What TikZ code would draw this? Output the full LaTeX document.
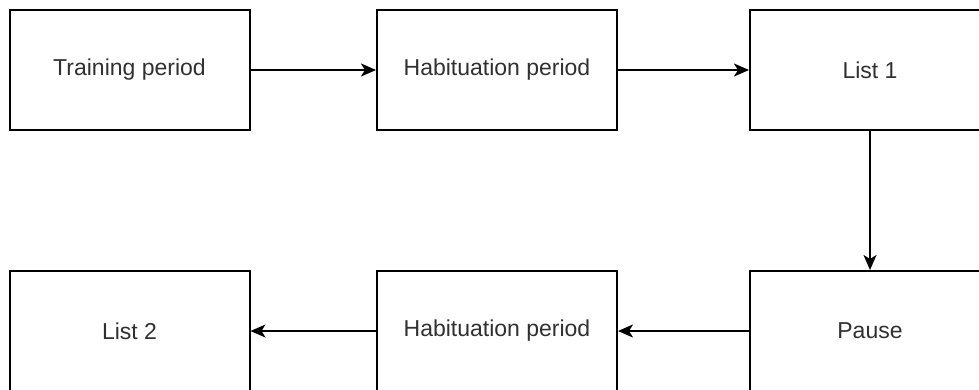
\documentclass[tikz,border=0pt]{standalone}
\usepackage{fontspec}
\setmainfont{Liberation Sans}
\usetikzlibrary{arrows.meta}
\definecolor{txt}{HTML}{303030}
\begin{document}
\begin{tikzpicture}[x=1pt,y=-1pt,
  stage/.style={draw=black, line width=2pt, minimum width=240pt, minimum height=120pt,
    inner sep=0pt, anchor=center, text=txt, font=\fontsize{23}{27}\selectfont},
  flow/.style={line width=2pt, -{Stealth[length=15pt,width=13pt,inset=4pt]}}]
  \useasboundingbox (0,0) rectangle (979,389);
  % top row
  \node[stage] (train) at (129.5,70) {Training period};
  \node[stage] (hab1)  at (497,70)  {Habituation period};
  \node[stage] (list1) at (870,70)  {List 1};
  % bottom row
  \node[stage] (list2) at (129.5,331) {List 2};
  \node[stage] (hab2)  at (497,331)  {Habituation period};
  \node[stage] (pause) at (870,331)  {Pause};
  % connectors
  \draw[flow] (train) -- (hab1);
  \draw[flow] (hab1) -- (list1);
  \draw[flow] (list1) -- (pause);
  \draw[flow] (pause) -- (hab2);
  \draw[flow] (hab2) -- (list2);
\end{tikzpicture}
\end{document}
